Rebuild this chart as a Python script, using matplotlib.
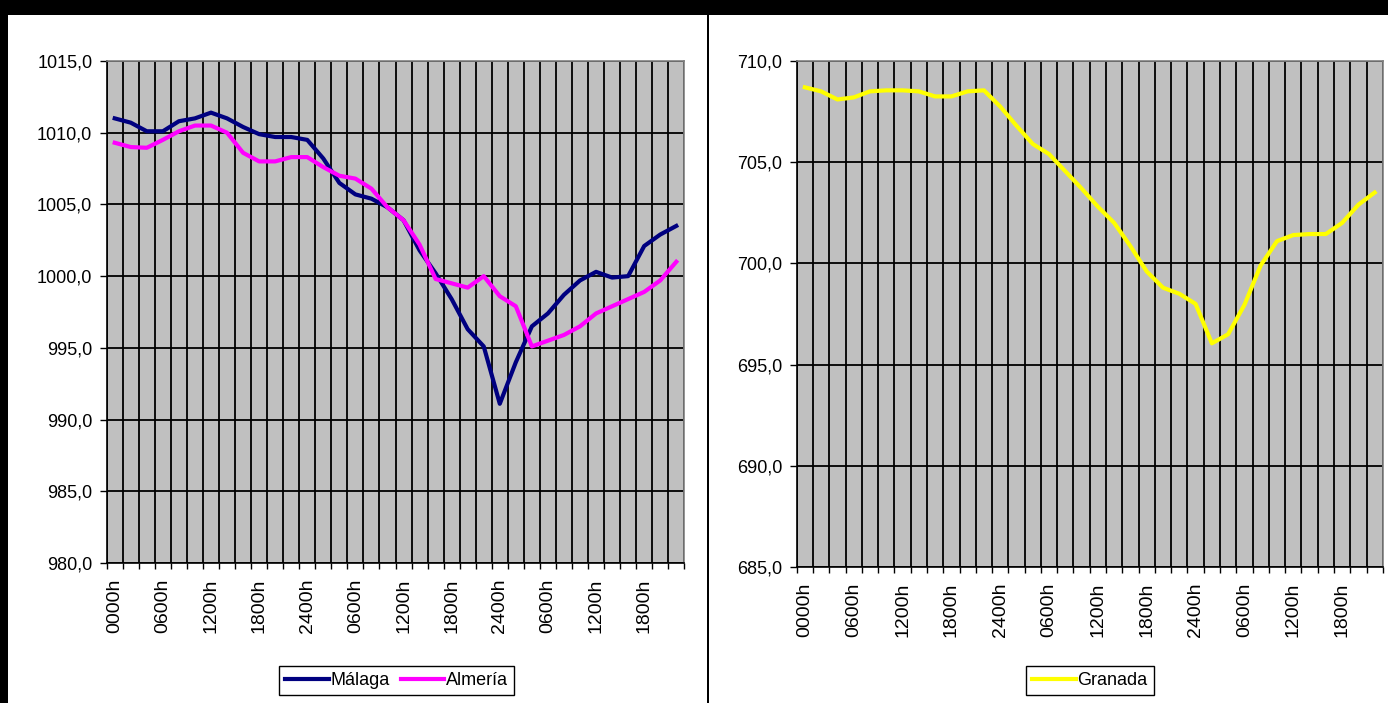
import numpy as np
import matplotlib
matplotlib.use('Agg')
import matplotlib.pyplot as plt
from matplotlib.patches import Rectangle

plt.rcParams['font.family'] = ['Liberation Sans', 'DejaVu Sans']

# Categorías (cada 2 horas, 3 días)
horas = ['0000h', '0200h', '0400h', '0600h', '0800h', '1000h', '1200h', '1400h', '1600h', '1800h', '2000h', '2200h',
         '2400h', '0200h', '0400h', '0600h', '0800h', '1000h', '1200h', '1400h', '1600h', '1800h', '2000h', '2200h',
         '2400h', '0200h', '0400h', '0600h', '0800h', '1000h', '1200h', '1400h', '1600h', '1800h', '2000h', '2200h']

# Presión (hPa)
malaga = [1011.0, 1010.7, 1010.1, 1010.1, 1010.8, 1011.0, 1011.4, 1011.0, 1010.4, 1009.9, 1009.7, 1009.7,
          1009.5, 1008.2, 1006.5, 1005.7, 1005.4, 1004.8, 1003.9, 1001.8, 1000.2, 998.4, 996.3, 995.1,
          991.1, 994.0, 996.5, 997.4, 998.7, 999.7, 1000.3, 999.9, 1000.0, 1002.1, 1002.9, 1003.5]
almeria = [1009.3, 1009.0, 1008.95, 1009.5, 1010.1, 1010.5, 1010.5, 1010.0, 1008.6, 1008.0, 1008.0, 1008.3,
           1008.3, 1007.6, 1007.0, 1006.8, 1006.1, 1004.8, 1003.9, 1002.2, 999.8, 999.5, 999.2, 1000.0,
           998.6, 997.9, 995.1, 995.5, 995.9, 996.5, 997.4, 997.9, 998.4, 998.9, 999.7, 1001.0]
granada = [708.7, 708.5, 708.1, 708.2, 708.5, 708.55, 708.55, 708.5, 708.25, 708.25, 708.5, 708.55,
           707.75, 706.8, 705.9, 705.4, 704.55, 703.7, 702.8, 702.0, 700.85, 699.6, 698.8, 698.5,
           698.0, 696.05, 696.5, 697.95, 699.9, 701.1, 701.4, 701.45, 701.45, 702.0, 702.9, 703.5]

yticks_izq = [980, 985, 990, 995, 1000, 1005, 1010, 1015]
ylabels_izq = ['980,0', '985,0', '990,0', '995,0', '1000,0', '1005,0', '1010,0', '1015,0']
yticks_der = [685, 690, 695, 700, 705, 710]
ylabels_der = ['685,0', '690,0', '695,0', '700,0', '705,0', '710,0']

W, H = 1388, 703
fig = plt.figure(figsize=(W / 100, H / 100), dpi=100, facecolor='black')

# paneles blancos
fig.patches.append(Rectangle((8 / W, 0), (707 - 8) / W, 688 / H, transform=fig.transFigure,
                             facecolor='white', edgecolor='none', zorder=-10))
fig.patches.append(Rectangle((709 / W, 0), (W - 709) / W, 688 / H, transform=fig.transFigure,
                             facecolor='white', edgecolor='none', zorder=-10))

ax1 = fig.add_axes([106.7 / W, (H - 563) / H, 577.6 / W, 502 / H], zorder=1)
ax2 = fig.add_axes([796.7 / W, (H - 567) / H, 586.1 / W, 506 / H], zorder=1)


def estilo(ax, yticks, ylabels):
    n = len(horas)
    ax.set_facecolor('#c0c0c0')
    ax.set_xlim(-0.5, n - 0.5)
    ax.set_ylim(yticks[0], yticks[-1])
    ax.set_xticks(np.arange(n + 1) - 0.5)
    ax.set_xticklabels([])
    ax.set_xticks(np.arange(0, n, 3), minor=True)
    ax.set_xticklabels(horas[::3], minor=True, rotation=90, fontsize=14)
    ax.tick_params(axis='x', which='major', length=4.3, width=1, direction='out')
    ax.tick_params(axis='x', which='minor', length=0, pad=11)
    ax.set_yticks(yticks)
    ax.set_yticklabels(ylabels, fontsize=13)
    ax.tick_params(axis='y', length=4.8, width=1, pad=5.6)
    ax.grid(True, which='major', color='black', linewidth=1.3)
    ax.set_axisbelow(True)
    for s in ['left', 'bottom']:
        ax.spines[s].set_color('black')
        ax.spines[s].set_linewidth(1.2)
    for s in ['top', 'right']:
        ax.spines[s].set_color('#808080')
        ax.spines[s].set_linewidth(1.2)


x = np.arange(len(horas))
ax1.plot(x, malaga, color='#000080', lw=3, label='Málaga', solid_joinstyle='round')
ax1.plot(x, almeria, color='#ff00ff', lw=3, label='Almería', solid_joinstyle='round')
ax2.plot(x, granada, color='#ffff00', lw=3, label='Granada', solid_joinstyle='round')

estilo(ax1, yticks_izq, ylabels_izq)
estilo(ax2, yticks_der, ylabels_der)

for ax, cx, nc in [(ax1, 396.5, 2), (ax2, 1090, 1)]:
    leg = ax.legend(loc='center', bbox_to_anchor=(cx / W, (H - 680.5) / H), bbox_transform=fig.transFigure,
                    ncol=nc, fontsize=13, handlelength=2.4, handletextpad=0.1, columnspacing=0.6,
                    borderpad=0.35, fancybox=False, framealpha=1, edgecolor='black', facecolor='white')
    leg.get_frame().set_linewidth(1.0)

fig.savefig('out.png', dpi=100, facecolor=fig.get_facecolor())
